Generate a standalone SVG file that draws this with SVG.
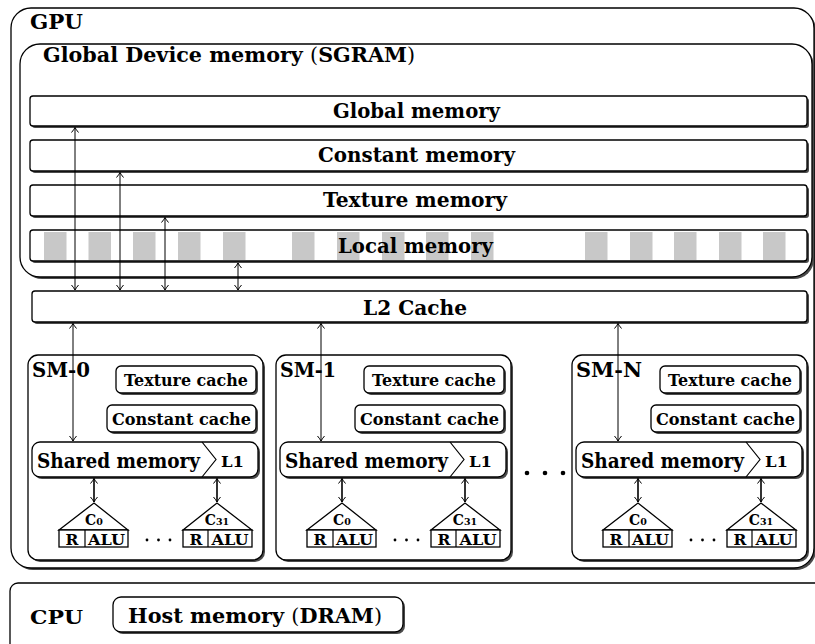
<svg xmlns="http://www.w3.org/2000/svg" width="815" height="644" viewBox="0 0 815 644">
<style>
.bx{fill:#fff;stroke:#000;stroke-width:1.3}
.sh{fill:#4a4a4a;stroke:none}
.t{font-family:"DejaVu Serif","Liberation Serif",serif;font-weight:bold;fill:#000}
.n{font-weight:normal}
.blk{fill:#c8c8c8;stroke:none}
.ar{stroke:#000;stroke-width:1;fill:none;marker-start:url(#ah);marker-end:url(#ah)}
.ar2{stroke:#000;stroke-width:1.6;fill:none;marker-start:url(#ah);marker-end:url(#ah)}
.ln{stroke:#000;stroke-width:1.2;fill:none}
</style>
<defs>
<marker id="ah" markerUnits="userSpaceOnUse" markerWidth="10" markerHeight="10" viewBox="-6 -5 7 10" refX="0" refY="0" orient="auto-start-reverse">
<path d="M-5,-3.5 Q-2,-1 0,0 Q-2,1 -5,3.5" stroke="#000" stroke-width="1" fill="none"/>
</marker>
</defs>
<rect width="815" height="644" fill="#fff"/>

<g id="gpu">
<rect class="sh" x="13" y="10" width="803" height="560" rx="20"/>
<rect class="bx" x="11" y="8" width="803" height="560" rx="20"/>
<text class="t" x="30" y="29" font-size="20" textLength="53" lengthAdjust="spacingAndGlyphs">GPU</text>
</g>

<g id="device-memory">
<rect class="sh" x="22" y="46" width="792" height="233" rx="20"/>
<rect class="bx" x="20" y="44" width="792" height="233" rx="20"/>
<text class="t" x="43" y="62" font-size="19.5" textLength="372" lengthAdjust="spacingAndGlyphs">Global Device memory <tspan class="n">(</tspan>SGRAM<tspan class="n">)</tspan></text>
</g>

<g id="global-memory">
<rect class="sh" x="32" y="98" width="777" height="30" rx="3"/>
<rect class="bx" x="30" y="96" width="777" height="30" rx="3"/>
<text class="t" x="333" y="118" font-size="19.5" textLength="167" lengthAdjust="spacingAndGlyphs">Global memory</text>
</g>

<g id="constant-memory">
<rect class="sh" x="32" y="142" width="777" height="31" rx="3"/>
<rect class="bx" x="30" y="140" width="777" height="31" rx="3"/>
<text class="t" x="318" y="162" font-size="19.5" textLength="197" lengthAdjust="spacingAndGlyphs">Constant memory</text>
</g>

<g id="texture-memory">
<rect class="sh" x="32" y="187" width="777" height="31" rx="3"/>
<rect class="bx" x="30" y="185" width="777" height="31" rx="3"/>
<text class="t" x="323" y="207" font-size="19.5" textLength="184" lengthAdjust="spacingAndGlyphs">Texture memory</text>
</g>

<g id="local-memory">
<rect class="sh" x="32" y="232" width="777" height="31" rx="3"/>
<rect class="bx" x="30" y="230" width="777" height="31" rx="3"/>
<rect class="blk" x="44" y="232" width="22.5" height="28"/>
<rect class="blk" x="88.5" y="232" width="22.5" height="28"/>
<rect class="blk" x="133" y="232" width="22.5" height="28"/>
<rect class="blk" x="178" y="232" width="22.5" height="28"/>
<rect class="blk" x="223" y="232" width="22.5" height="28"/>
<rect class="blk" x="292" y="232" width="22.5" height="28"/>
<rect class="blk" x="337" y="232" width="22.5" height="28"/>
<rect class="blk" x="382" y="232" width="22.5" height="28"/>
<rect class="blk" x="426" y="232" width="22.5" height="28"/>
<rect class="blk" x="471" y="232" width="22.5" height="28"/>
<rect class="blk" x="585" y="232" width="22.5" height="28"/>
<rect class="blk" x="630" y="232" width="22.5" height="28"/>
<rect class="blk" x="674" y="232" width="22.5" height="28"/>
<rect class="blk" x="719" y="232" width="22.5" height="28"/>
<rect class="blk" x="763" y="232" width="22.5" height="28"/>
<text class="t" x="338" y="253" font-size="19.5" textLength="155" lengthAdjust="spacingAndGlyphs">Local memory</text>
</g>

<g id="l2-cache">
<rect class="sh" x="34" y="293" width="775" height="31" rx="3"/>
<rect class="bx" x="32" y="291" width="775" height="31" rx="3"/>
<text class="t" x="363" y="315" font-size="19.5" textLength="104" lengthAdjust="spacingAndGlyphs">L2 Cache</text>
</g>

<g id="sm-0" transform="translate(28,0)">
<rect class="sh" x="2" y="357" width="235" height="205" rx="10"/>
<rect class="bx" x="0" y="355" width="235" height="205" rx="10"/>
<text class="t" x="4" y="377" font-size="19.5" textLength="58" lengthAdjust="spacingAndGlyphs">SM-0</text>
<rect class="sh" x="90" y="368" width="140" height="27" rx="5"/>
<rect class="bx" x="88" y="366" width="140" height="27" rx="5"/>
<text class="t" x="158" y="385.5" font-size="17" text-anchor="middle" textLength="124" lengthAdjust="spacingAndGlyphs">Texture cache</text>
<rect class="sh" x="81" y="407" width="149" height="27" rx="5"/>
<rect class="bx" x="79" y="405" width="149" height="27" rx="5"/>
<text class="t" x="153.5" y="424.5" font-size="17" text-anchor="middle" textLength="139" lengthAdjust="spacingAndGlyphs">Constant cache</text>
<rect class="sh" x="6" y="444" width="226" height="35" rx="8"/>
<rect class="bx" x="4" y="442" width="226" height="35" rx="8"/>
<path class="ln" d="M174,442 L188,459.5 L174,477"/>
<text class="t" x="9" y="468" font-size="20.5" textLength="163" lengthAdjust="spacingAndGlyphs">Shared memory</text>
<text class="t" x="193" y="467" font-size="15.5" textLength="23" lengthAdjust="spacingAndGlyphs">L1</text>
<path class="bx" d="M31,530 L66,503 L100,530 Z"/>
<rect class="bx" x="31" y="530" width="69" height="17"/>
<line class="ln" x1="57" y1="530" x2="57" y2="547"/>
<text class="t" x="66" y="525" font-size="14" text-anchor="middle">C<tspan font-size="9.5">0</tspan></text>
<text class="t" x="44" y="544.5" font-size="15.5" text-anchor="middle">R</text>
<text class="t" x="78.5" y="544.5" font-size="15.5" text-anchor="middle" textLength="37" lengthAdjust="spacingAndGlyphs">ALU</text>
<circle cx="119" cy="540" r="1.4"/><circle cx="130.5" cy="540" r="1.4"/><circle cx="142" cy="540" r="1.4"/>
<path class="bx" d="M155,530 L189,503 L224,530 Z"/>
<rect class="bx" x="155" y="530" width="69" height="17"/>
<line class="ln" x1="180" y1="530" x2="180" y2="547"/>
<text class="t" x="189" y="525" font-size="14" text-anchor="middle">C<tspan font-size="9.5">31</tspan></text>
<text class="t" x="168" y="544.5" font-size="15.5" text-anchor="middle">R</text>
<text class="t" x="202" y="544.5" font-size="15.5" text-anchor="middle" textLength="37" lengthAdjust="spacingAndGlyphs">ALU</text>
</g>

<g id="sm-1" transform="translate(276,0)">
<rect class="sh" x="2" y="357" width="235" height="205" rx="10"/>
<rect class="bx" x="0" y="355" width="235" height="205" rx="10"/>
<text class="t" x="4" y="377" font-size="19.5" textLength="56" lengthAdjust="spacingAndGlyphs">SM-1</text>
<rect class="sh" x="90" y="368" width="140" height="27" rx="5"/>
<rect class="bx" x="88" y="366" width="140" height="27" rx="5"/>
<text class="t" x="158" y="385.5" font-size="17" text-anchor="middle" textLength="124" lengthAdjust="spacingAndGlyphs">Texture cache</text>
<rect class="sh" x="81" y="407" width="149" height="27" rx="5"/>
<rect class="bx" x="79" y="405" width="149" height="27" rx="5"/>
<text class="t" x="153.5" y="424.5" font-size="17" text-anchor="middle" textLength="139" lengthAdjust="spacingAndGlyphs">Constant cache</text>
<rect class="sh" x="6" y="444" width="226" height="35" rx="8"/>
<rect class="bx" x="4" y="442" width="226" height="35" rx="8"/>
<path class="ln" d="M174,442 L188,459.5 L174,477"/>
<text class="t" x="9" y="468" font-size="20.5" textLength="163" lengthAdjust="spacingAndGlyphs">Shared memory</text>
<text class="t" x="193" y="467" font-size="15.5" textLength="23" lengthAdjust="spacingAndGlyphs">L1</text>
<path class="bx" d="M31,530 L66,503 L100,530 Z"/>
<rect class="bx" x="31" y="530" width="69" height="17"/>
<line class="ln" x1="57" y1="530" x2="57" y2="547"/>
<text class="t" x="66" y="525" font-size="14" text-anchor="middle">C<tspan font-size="9.5">0</tspan></text>
<text class="t" x="44" y="544.5" font-size="15.5" text-anchor="middle">R</text>
<text class="t" x="78.5" y="544.5" font-size="15.5" text-anchor="middle" textLength="37" lengthAdjust="spacingAndGlyphs">ALU</text>
<circle cx="119" cy="540" r="1.4"/><circle cx="130.5" cy="540" r="1.4"/><circle cx="142" cy="540" r="1.4"/>
<path class="bx" d="M155,530 L189,503 L224,530 Z"/>
<rect class="bx" x="155" y="530" width="69" height="17"/>
<line class="ln" x1="180" y1="530" x2="180" y2="547"/>
<text class="t" x="189" y="525" font-size="14" text-anchor="middle">C<tspan font-size="9.5">31</tspan></text>
<text class="t" x="168" y="544.5" font-size="15.5" text-anchor="middle">R</text>
<text class="t" x="202" y="544.5" font-size="15.5" text-anchor="middle" textLength="37" lengthAdjust="spacingAndGlyphs">ALU</text>
</g>

<g id="sm-ellipsis">
<circle cx="527" cy="473" r="2.3"/><circle cx="545" cy="473" r="2.3"/><circle cx="563" cy="473" r="2.3"/>
</g>

<g id="sm-n" transform="translate(572,0)">
<rect class="sh" x="2" y="357" width="235" height="205" rx="10"/>
<rect class="bx" x="0" y="355" width="235" height="205" rx="10"/>
<text class="t" x="4" y="377" font-size="19.5" textLength="66" lengthAdjust="spacingAndGlyphs">SM-N</text>
<rect class="sh" x="90" y="368" width="140" height="27" rx="5"/>
<rect class="bx" x="88" y="366" width="140" height="27" rx="5"/>
<text class="t" x="158" y="385.5" font-size="17" text-anchor="middle" textLength="124" lengthAdjust="spacingAndGlyphs">Texture cache</text>
<rect class="sh" x="81" y="407" width="149" height="27" rx="5"/>
<rect class="bx" x="79" y="405" width="149" height="27" rx="5"/>
<text class="t" x="153.5" y="424.5" font-size="17" text-anchor="middle" textLength="139" lengthAdjust="spacingAndGlyphs">Constant cache</text>
<rect class="sh" x="6" y="444" width="226" height="35" rx="8"/>
<rect class="bx" x="4" y="442" width="226" height="35" rx="8"/>
<path class="ln" d="M174,442 L188,459.5 L174,477"/>
<text class="t" x="9" y="468" font-size="20.5" textLength="163" lengthAdjust="spacingAndGlyphs">Shared memory</text>
<text class="t" x="193" y="467" font-size="15.5" textLength="23" lengthAdjust="spacingAndGlyphs">L1</text>
<path class="bx" d="M31,530 L66,503 L100,530 Z"/>
<rect class="bx" x="31" y="530" width="69" height="17"/>
<line class="ln" x1="57" y1="530" x2="57" y2="547"/>
<text class="t" x="66" y="525" font-size="14" text-anchor="middle">C<tspan font-size="9.5">0</tspan></text>
<text class="t" x="44" y="544.5" font-size="15.5" text-anchor="middle">R</text>
<text class="t" x="78.5" y="544.5" font-size="15.5" text-anchor="middle" textLength="37" lengthAdjust="spacingAndGlyphs">ALU</text>
<circle cx="119" cy="540" r="1.4"/><circle cx="130.5" cy="540" r="1.4"/><circle cx="142" cy="540" r="1.4"/>
<path class="bx" d="M155,530 L189,503 L224,530 Z"/>
<rect class="bx" x="155" y="530" width="69" height="17"/>
<line class="ln" x1="180" y1="530" x2="180" y2="547"/>
<text class="t" x="189" y="525" font-size="14" text-anchor="middle">C<tspan font-size="9.5">31</tspan></text>
<text class="t" x="168" y="544.5" font-size="15.5" text-anchor="middle">R</text>
<text class="t" x="202" y="544.5" font-size="15.5" text-anchor="middle" textLength="37" lengthAdjust="spacingAndGlyphs">ALU</text>
</g>

<g id="connectors">
<line class="ar" x1="75" y1="127.5" x2="75" y2="290"/>
<line class="ar" x1="120" y1="172.5" x2="120" y2="290"/>
<line class="ar" x1="165" y1="217.5" x2="165" y2="290"/>
<line class="ar" x1="238" y1="263" x2="238" y2="290"/>
<line class="ar" x1="73" y1="323.5" x2="73" y2="441"/>
<line class="ar" x1="321" y1="323.5" x2="321" y2="441"/>
<line class="ar" x1="618" y1="323.5" x2="618" y2="441"/>
<line class="ar2" x1="94" y1="478.5" x2="94" y2="502"/>
<line class="ar2" x1="217" y1="478.5" x2="217" y2="502"/>
<line class="ar2" x1="342" y1="478.5" x2="342" y2="502"/>
<line class="ar2" x1="465" y1="478.5" x2="465" y2="502"/>
<line class="ar2" x1="638" y1="478.5" x2="638" y2="502"/>
<line class="ar2" x1="761" y1="478.5" x2="761" y2="502"/>
</g>

<g id="cpu">
<rect class="bx" x="10" y="583" width="820" height="80" rx="8"/>
<text class="t" x="30" y="624" font-size="18" textLength="53" lengthAdjust="spacingAndGlyphs">CPU</text>
</g>

<g id="host-memory">
<rect class="sh" x="115" y="599" width="290" height="35" rx="8"/>
<rect class="bx" x="113" y="597" width="290" height="35" rx="8"/>
<text class="t" x="128" y="623" font-size="19.5" textLength="254" lengthAdjust="spacingAndGlyphs">Host memory <tspan class="n">(</tspan>DRAM<tspan class="n">)</tspan></text>
</g>
</svg>
